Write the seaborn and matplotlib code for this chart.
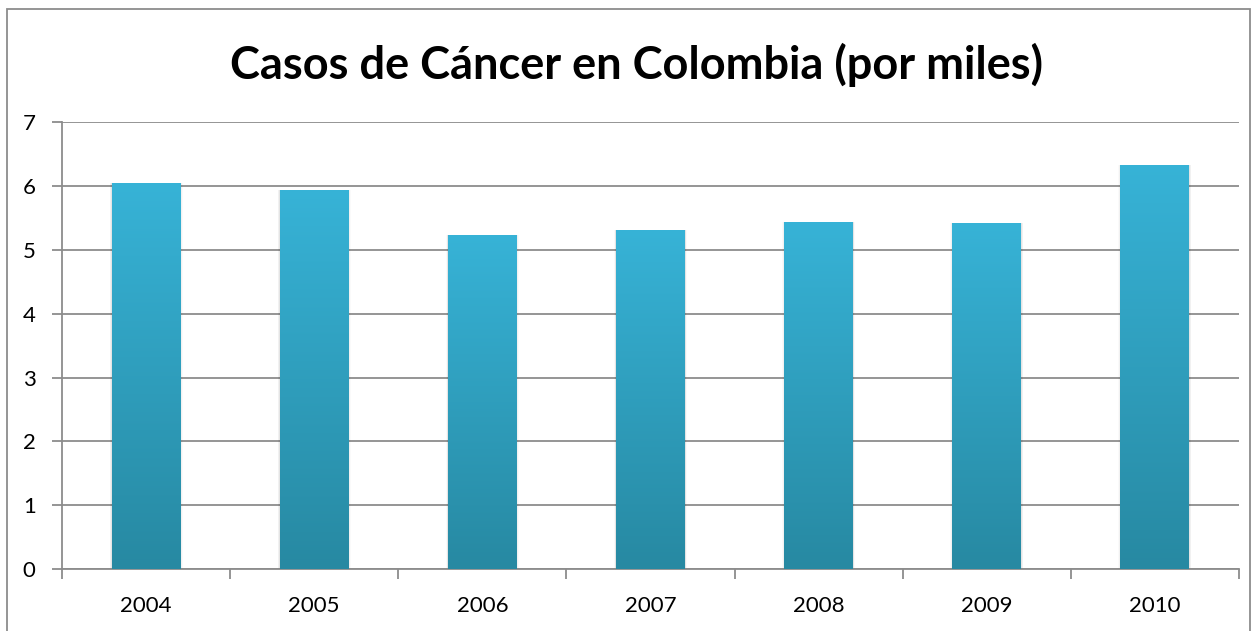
import numpy as np
import pandas as pd
import matplotlib
matplotlib.use("Agg")
import matplotlib.pyplot as plt
import seaborn as sns
from matplotlib.colors import LinearSegmentedColormap
from matplotlib.patches import Rectangle

years = ["2004", "2005", "2006", "2007", "2008", "2009", "2010"]
casos = [6.05, 5.94, 5.23, 5.31, 5.44, 5.42, 6.33]
title = "Casos de Cáncer en Colombia (por miles)"

sns.set_theme(style="white")
plt.rcParams['font.family'] = ['Lato', 'DejaVu Sans']

fig = plt.figure(figsize=(12.57, 6.31), dpi=100)
W, H = 1257, 631
ax = fig.add_axes([62 / W, 1 - 569.3 / H, (1239 - 62) / W, (569.3 - 122) / H])

df = pd.DataFrame({"year": years, "casos": casos})
sns.barplot(data=df, x="year", y="casos", ax=ax, width=0.41, color="#33a9c9",
            saturation=1, zorder=3, linewidth=0, edgecolor="none")

ax.set_ylim(0, 7)
ax.set_xlim(-0.5, len(years) - 0.5)
ax.set_yticks(range(0, 8))
ax.set_xlabel("")
ax.set_ylabel("")
ax.yaxis.grid(True, color="#8c8c8c", linewidth=1.3, zorder=0)
ax.set_axisbelow(True)

# gradient fill for bars
cmap = LinearSegmentedColormap.from_list("g", ["#2789a2", "#37b3d7"])
grad = np.linspace(0, 1, 256).reshape(-1, 1)
for p in list(ax.patches):
    x0, y0 = p.get_x(), p.get_y()
    w, h = p.get_width(), p.get_height()
    p.set_edgecolor("none")
    p.set_linewidth(0)
    # soft side shadow
    for k, a in enumerate([0.05, 0.035, 0.02]):
        ax.add_patch(Rectangle((x0 - 0.004 * (k + 1), y0), w + 0.008 * (k + 1), h,
                               facecolor="black", alpha=a, edgecolor="none", linewidth=0, zorder=2))
    im = ax.imshow(grad, extent=[x0, x0 + w, y0, y0 + h], origin="lower",
                   cmap=cmap, aspect="auto", zorder=4)
    im.set_clip_path(p)
    p.set_zorder(4)
ax.set_xlim(-0.5, len(years) - 0.5)
ax.set_ylim(0, 7)

for s in ["top", "right"]:
    ax.spines[s].set_visible(False)
for s in ["left", "bottom"]:
    ax.spines[s].set_color("#8c8c8c")
    ax.spines[s].set_linewidth(1.3)

ax.set_xticks(np.arange(-0.5, len(years), 1.0), minor=True)
ax.tick_params(axis="x", which="major", length=0, labelsize=16, colors="black", pad=19)
ax.tick_params(axis="x", which="minor", length=7, width=1.3, color="#8c8c8c", direction="out", bottom=True)
ax.tick_params(axis="y", which="major", length=7, width=1.3, color="#8c8c8c", direction="out",
               labelsize=16, colors="black", pad=12, left=True)

fig.text(636 / W, 1 - 65 / H, title, ha="center", va="center", fontsize=32.5, fontweight="bold",
         color="black")

# outer chart border
fig.add_artist(Rectangle((7 / W, -0.05), (1250 - 7) / W, 1.05 - 9 / H, transform=fig.transFigure,
                         facecolor="none", edgecolor="#8c8c8c", linewidth=1.3))

fig.savefig("out.png", dpi=100)
